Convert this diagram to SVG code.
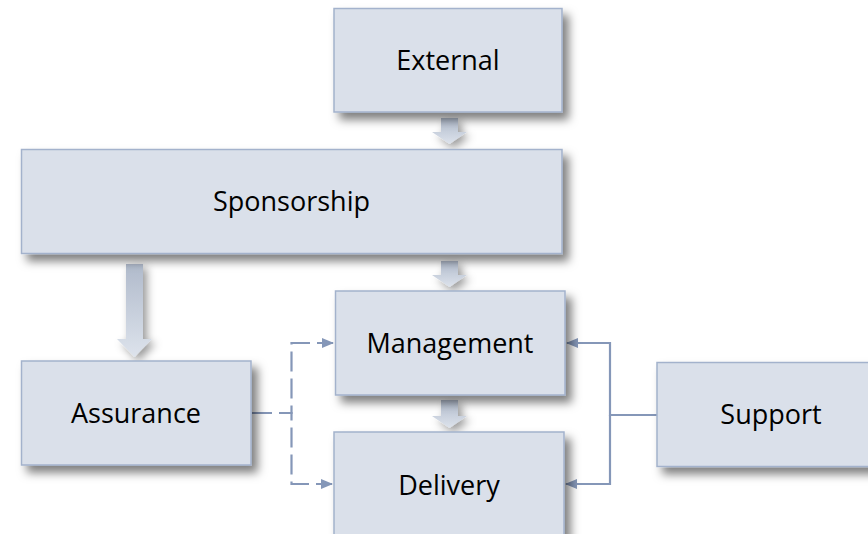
<svg xmlns="http://www.w3.org/2000/svg" width="868" height="534" viewBox="0 0 868 534">
<defs>
<style>
.box{fill:#dae0ea;stroke:#a3b2cc;stroke-width:1.5;filter:url(#sh)}
.lbl{font-family:"Open Sans","Noto Sans",sans-serif;font-size:27px;fill:#000;text-anchor:middle}
.blk{fill:url(#ag);filter:url(#sh2)}
.con{fill:none;stroke:#8597b8;stroke-width:2.2}
.dash{stroke-dasharray:20,7}
</style>
<filter id="sh" x="-10%" y="-10%" width="130%" height="150%">
<feDropShadow dx="6" dy="7" stdDeviation="5" flood-color="#000" flood-opacity="0.5"/>
</filter>
<filter id="sh2" x="-60%" y="-20%" width="220%" height="160%">
<feDropShadow dx="4" dy="4" stdDeviation="4" flood-color="#000" flood-opacity="0.4"/>
</filter>
<linearGradient id="ag" x1="0" y1="0" x2="0" y2="1">
<stop offset="0" stop-color="#b0bacb"/>
<stop offset="1" stop-color="#dde3ec"/>
</linearGradient>
<marker id="ah" viewBox="0 0 12 10" refX="11" refY="5" markerWidth="12" markerHeight="10" markerUnits="userSpaceOnUse" orient="auto">
<path d="M0,0 L12,5 L0,10 z" fill="#8597b8"/>
</marker>
</defs>
<rect width="868" height="534" fill="#fff"/>
<g id="connectors">
<path class="blk" d="M441,118 H458 V132 H467 L449.5,144 L432,132 H441 z"/>
<path class="blk" d="M126,264 H143 V339 H152 L134.5,357 L117,339 H126 z"/>
<path class="blk" d="M441,261 H458 V275 H467 L449.5,287 L432,275 H441 z"/>
<path class="blk" d="M441,400 H458 V416 H467 L449.5,428 L432,416 H441 z"/>
<path class="con dash" d="M252,413 H291.5 V343 H333" marker-end="url(#ah)"/>
<path class="con dash" d="M252,413 H291.5 V484 H332" marker-end="url(#ah)"/>
<path class="con" d="M657,415 H610 V343 H567" marker-end="url(#ah)"/>
<path class="con" d="M610,415 V484 H566" marker-end="url(#ah)"/>
</g>
<g id="external"><rect class="box" x="334" y="8.5" width="228" height="103.5"/><text class="lbl" x="448" y="70">External</text></g>
<g id="sponsorship"><rect class="box" x="21.5" y="149.5" width="540.5" height="104"/><text class="lbl" x="291.5" y="211">Sponsorship</text></g>
<g id="management"><rect class="box" x="335.5" y="291" width="229.5" height="104"/><text class="lbl" x="450" y="353">Management</text></g>
<g id="delivery"><rect class="box" x="334" y="432" width="230" height="106"/><text class="lbl" x="449" y="495">Delivery</text></g>
<g id="assurance"><rect class="box" x="21.5" y="361" width="229.5" height="104"/><text class="lbl" x="136" y="423">Assurance</text></g>
<g id="support"><rect class="box" x="657" y="362.5" width="230" height="104"/><text class="lbl" x="771" y="424">Support</text></g>
</svg>
